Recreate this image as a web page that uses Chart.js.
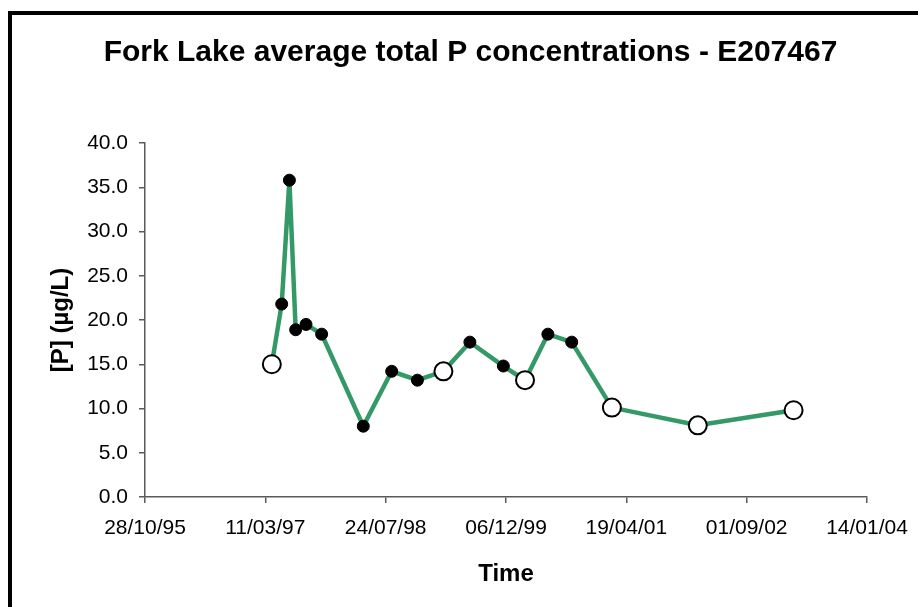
<!DOCTYPE html>
<html>
<head>
<meta charset="utf-8">
<script src="https://cdn.jsdelivr.net/npm/chart.js@4/dist/chart.umd.min.js"></script>
<style>
  html, body { margin: 0; padding: 0; background: #fff; overflow: hidden; }
  #wrap { position: relative; width: 918px; height: 607px; }
  #frame { position: absolute; left: 8px; top: 11px; width: 2000px; height: 2000px;
           border-left: 4px solid #000; border-top: 4px solid #000; box-sizing: border-box; }
  canvas { position: absolute; left: 0; top: 0; }
</style>
</head>
<body>
<div id="wrap">
  <div id="frame"></div>
  <canvas id="c" width="918" height="607"></canvas>
</div>
<script>
// ---- data ----
const chartTitle = 'Fork Lake average total P concentrations - E207467';
const xAxisTitle = 'Time';
const yAxisTitle = '[P] (µg/L)';

const sampleDates = [
  '1997-04-07', '1997-05-18', '1997-06-19', '1997-07-15', '1997-08-27', '1997-10-31',
  '1998-04-22', '1998-08-18', '1998-12-03', '1999-03-21', '1999-07-09', '1999-11-25',
  '2000-02-23', '2000-05-28', '2000-09-04', '2001-02-18', '2002-02-10', '2003-03-15'
];
const totalP = [
  15.0, 21.8, 35.8, 18.9, 19.5, 18.4,
  8.0, 14.2, 13.2, 14.2, 17.5, 14.8,
  13.2, 18.4, 17.5, 10.1, 8.1, 9.8
];
// marker kind per sample: 'open' (hollow circle) or 'filled' (solid dot)
const markerKind = [
  'open', 'filled', 'filled', 'filled', 'filled', 'filled',
  'filled', 'filled', 'filled', 'open', 'filled', 'filled',
  'open', 'filled', 'filled', 'open', 'open', 'open'
];
const xTickLabels = ['28/10/95', '11/03/97', '24/07/98', '06/12/99', '19/04/01', '01/09/02', '14/01/04'];
const yTickValues = [0, 5, 10, 15, 20, 25, 30, 35, 40];

// ---- helpers ----
function isoToDay(s) {
  const [y, m, d] = s.split('-').map(Number);
  return Date.UTC(y, m - 1, d) / 86400000;
}
function labelToDay(s) {
  const [d, m, yy] = s.split('/').map(Number);
  const y = yy < 50 ? 2000 + yy : 1900 + yy;
  return Date.UTC(y, m - 1, d) / 86400000;
}
const xTickDays = xTickLabels.map(labelToDay);
const points = sampleDates.map((s, i) => ({ x: isoToDay(s), y: totalP[i] }));

const FONT = 'Liberation Sans, Arial, sans-serif';
const GREEN = '#339966';
const AXIS = '#5a5a5a';

const titlePlugin = {
  id: 'fixedTitle',
  afterDraw(chart) {
    const ctx = chart.ctx;
    ctx.save();
    ctx.font = 'bold 30px ' + FONT;
    ctx.fillStyle = '#000';
    ctx.textAlign = 'center';
    ctx.textBaseline = 'middle';
    ctx.fillText(chartTitle, 470.5, 53);
    ctx.restore();
  }
};

new Chart(document.getElementById('c'), {
  type: 'line',
  data: {
    datasets: [{
      data: points,
      borderColor: GREEN,
      borderWidth: 4.5,
      tension: 0,
      fill: false,
      pointRadius: markerKind.map(k => k === 'open' ? 9 : 6),
      pointBackgroundColor: markerKind.map(k => k === 'open' ? '#fff' : '#000'),
      pointBorderColor: '#000',
      pointBorderWidth: markerKind.map(k => k === 'open' ? 2 : 1),
      pointHoverRadius: markerKind.map(k => k === 'open' ? 9 : 6)
    }]
  },
  options: {
    responsive: false,
    animation: false,
    devicePixelRatio: 1,
    layout: { autoPadding: false, padding: { left: 0, right: 51, top: 143, bottom: 0 } },
    plugins: { legend: { display: false }, tooltip: { enabled: false }, title: { display: false } },
    scales: {
      x: {
        type: 'linear',
        min: xTickDays[0],
        max: xTickDays[xTickDays.length - 1],
        afterBuildTicks(scale) { scale.ticks = xTickDays.map(v => ({ value: v })); },
        afterFit(scale) { scale.height = 110; scale.paddingLeft = 0; scale.paddingRight = 0; },
        grid: { display: true, drawOnChartArea: false, drawTicks: true, tickLength: 6, color: AXIS, lineWidth: 1.5 },
        border: { display: true, color: AXIS, width: 1.5 },
        ticks: {
          autoSkip: false, maxRotation: 0, padding: 13, color: '#000',
          font: { family: FONT, size: 21 },
          callback(v) { const i = xTickDays.indexOf(v); return i >= 0 ? xTickLabels[i] : ''; }
        },
        title: { display: true, text: xAxisTitle, color: '#000', font: { family: FONT, size: 24, weight: 'bold' }, padding: { top: 0, bottom: 18 } }
      },
      y: {
        type: 'linear',
        min: yTickValues[0],
        max: yTickValues[yTickValues.length - 1],
        afterBuildTicks(scale) { scale.ticks = yTickValues.map(v => ({ value: v })); },
        afterFit(scale) { scale.width = 145; },
        grid: { display: true, drawOnChartArea: false, drawTicks: true, tickLength: 6, color: AXIS, lineWidth: 1.5 },
        border: { display: true, color: AXIS, width: 1.5 },
        ticks: {
          padding: 11, color: '#000',
          font: { family: FONT, size: 21 },
          callback(v) { return Number(v).toFixed(1); }
        },
        title: { display: true, text: yAxisTitle, color: '#000', font: { family: FONT, size: 24, weight: 'bold' }, padding: { top: 47, bottom: 0 } }
      }
    }
  },
  plugins: [titlePlugin]
});
</script>
</body>
</html>
